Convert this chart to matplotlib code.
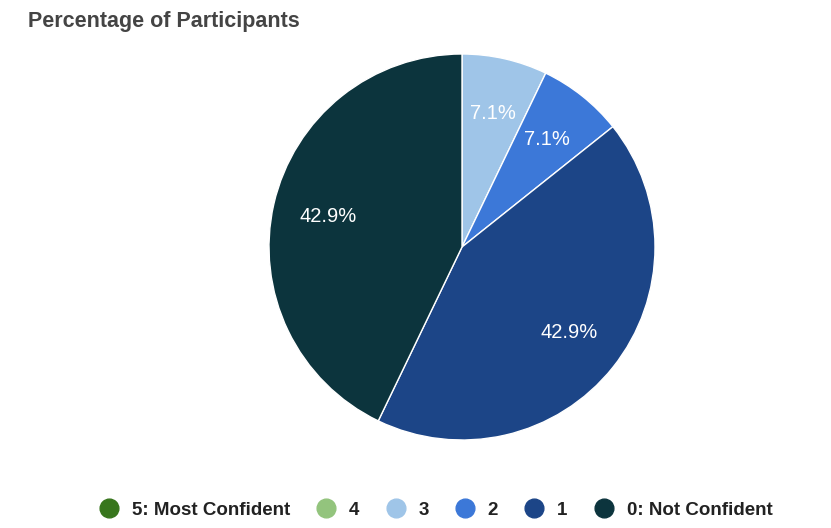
import matplotlib
matplotlib.use("Agg")
import matplotlib.pyplot as plt
from matplotlib.lines import Line2D

plt.rcParams["font.family"] = ["Liberation Sans", "DejaVu Sans"]

# данные
labels = ["5: Most Confident", "4", "3", "2", "1", "0: Not Confident"]
counts = [0, 0, 1, 1, 6, 6]
colors = ["#38761d", "#93c47d", "#9fc5e8", "#3c78d8", "#1c4587", "#0c343d"]

fig = plt.figure(figsize=(8.31, 5.28), dpi=100)
ax = fig.add_axes([269 / 831, 88 / 528, 386 / 831, 386 / 528])

# рисуем только ненулевые сектора, по часовой стрелке с 12 часов
vals = [c for c in counts if c > 0]
cols = [col for c, col in zip(counts, colors) if c > 0]
wedges, texts, autotexts = ax.pie(
    vals, colors=cols, startangle=90, counterclock=False,
    autopct="%.1f%%", pctdistance=0.71,
    wedgeprops=dict(edgecolor="white", linewidth=1),
    textprops=dict(color="white", fontsize=14.5),
)
ax.set_xlim(-1, 1)
ax.set_ylim(-1, 1)
ax.set_aspect("equal")

fig.text(28 / 831, 1 - 22 / 528, "Percentage of Participants", fontsize=15.5,
         fontweight="bold", color="#444444", va="center", ha="left")

handles = [Line2D([], [], marker="o", linestyle="", markersize=13.5,
                  markerfacecolor=c, markeredgecolor=c) for c in colors]
leg = fig.legend(handles, labels, loc="center", bbox_to_anchor=(435 / 831, 1 - 510 / 528),
                 ncol=6, frameon=False, handletextpad=0.62, columnspacing=1.33,
                 handlelength=1.2, prop=dict(size=13.5, weight="bold"))
for t in leg.get_texts():
    t.set_color("#222222")

fig.savefig("out.png", dpi=100)
